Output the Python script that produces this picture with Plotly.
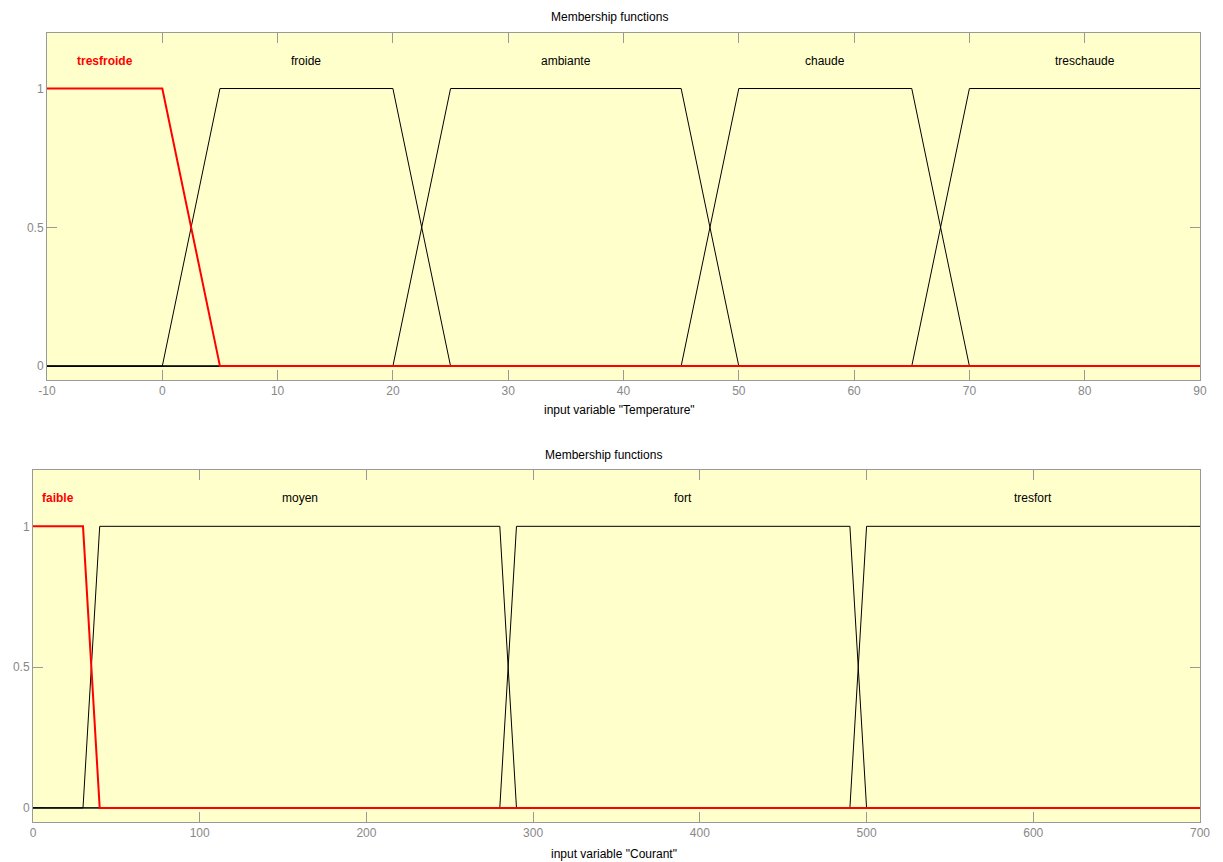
import plotly.graph_objects as go

# ---- data: Temperature (top panel) ----
temp_names = ["tresfroide", "froide", "ambiante", "chaude", "treschaude"]
temp_breaks = [
    [-10, 0, 5, 90],
    [-10, 0, 5, 20, 25, 90],
    [-10, 20, 25, 45, 50, 90],
    [-10, 45, 50, 65, 70, 90],
    [-10, 65, 70, 90],
]
temp_mu = [
    [1, 1, 0, 0],
    [0, 0, 1, 1, 0, 0],
    [0, 0, 1, 1, 0, 0],
    [0, 0, 1, 1, 0, 0],
    [0, 0, 1, 1],
]
temp_label_x = [-5, 12.5, 35, 57.5, 80]
temp_ticks = [-10, 0, 10, 20, 30, 40, 50, 60, 70, 80, 90]
temp_ticktext = ["-10", "0", "10", "20", "30", "40", "50", "60", "70", "80", "90"]

# ---- data: Courant (bottom panel) ----
cour_names = ["faible", "moyen", "fort", "tresfort"]
cour_breaks = [
    [0, 30, 40, 700],
    [0, 30, 40, 280, 290, 700],
    [0, 280, 290, 490, 500, 700],
    [0, 490, 500, 700],
]
cour_mu = [
    [1, 1, 0, 0],
    [0, 0, 1, 1, 0, 0],
    [0, 0, 1, 1, 0, 0],
    [0, 0, 1, 1],
]
cour_label_x = [15, 160, 390, 600]
cour_ticks = [0, 100, 200, 300, 400, 500, 600, 700]

y_ticks = [0, 0.5, 1]
y_ticktext = ["0", "0.5", "1"]

FONT = "Liberation Sans, Arial, sans-serif"
BG = "#FFFFCC"
AXC = "#999999"
TICKC = "#888888"

fig = go.Figure()

def add_panel(breaks, mus, names, label_x, xa, ya, highlight=0):
    order = [i for i in range(len(names)) if i != highlight] + [highlight]
    for i in order:
        red = (i == highlight)
        fig.add_trace(go.Scatter(
            x=breaks[i], y=mus[i], mode="lines",
            line=dict(color="#FF0000" if red else "#000000", width=2 if red else 1),
            xaxis=xa, yaxis=ya, showlegend=False, hoverinfo="skip",
            cliponaxis=False))
    for i, n in enumerate(names):
        red = (i == highlight)
        fig.add_annotation(
            x=label_x[i], y=1.1, xref=xa, yref=ya, text=f"<b>{n}</b>" if red else n,
            showarrow=False,
            font=dict(family=FONT, size=12, color="#FF0000" if red else "#000000"))

add_panel(temp_breaks, temp_mu, temp_names, temp_label_x, "x", "y")
add_panel(cour_breaks, cour_mu, cour_names, cour_label_x, "x2", "y2")

OFF = 8  # page body margin
W, H = 1223 - OFF, 862 - OFF

def fx(px):
    return (px - OFF) / W

def fy(py):
    return 1 - (py - OFF) / H

axis_common = dict(
    showline=True, linecolor=AXC, linewidth=1, mirror="allticks",
    ticks="inside", ticklen=10, tickcolor=AXC, tickwidth=1,
    showgrid=False, zeroline=False, layer="below traces",
    tickfont=dict(family=FONT, size=12, color=TICKC),
)

fig.update_layout(
    width=W, height=H,
    margin=dict(l=0, r=0, t=0, b=0, autoexpand=False),
    paper_bgcolor="white", plot_bgcolor=BG,
    font=dict(family=FONT, size=12, color="#000000"),
    xaxis=dict(domain=[fx(47), fx(1200)], range=[-10, 90], tickvals=temp_ticks,
               ticktext=temp_ticktext, anchor="y", **axis_common),
    yaxis=dict(domain=[fy(380), fy(33)], range=[-0.05, 1.2], tickvals=y_ticks,
               ticktext=y_ticktext, anchor="x", **axis_common),
    xaxis2=dict(domain=[fx(33), fx(1200)], range=[0, 700], tickvals=cour_ticks,
                anchor="y2", **axis_common),
    yaxis2=dict(domain=[fy(822), fy(470)], range=[-0.05, 1.2], tickvals=y_ticks,
                ticktext=y_ticktext, anchor="x2", **axis_common),
)

# titles and axis labels
for txt, xc, yc in [
    ("Membership functions", 609, 17),
    ('input variable "Temperature"', 620, 410),
    ("Membership functions", 603, 455),
    ('input variable "Courant"', 614, 854),
]:
    fig.add_annotation(x=fx(xc), y=fy(yc), xref="paper", yref="paper",
                       text=txt, showarrow=False, xanchor="center", yanchor="middle",
                       font=dict(family=FONT, size=12, color="#000000"))

fig.write_html("out.html")
